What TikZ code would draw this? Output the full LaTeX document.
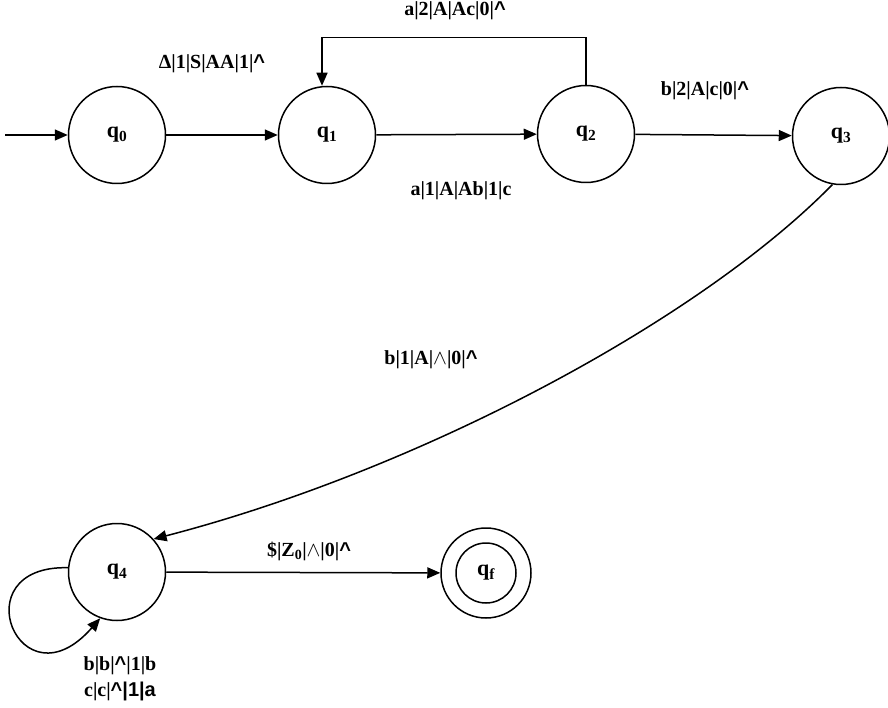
\documentclass[tikz,border=0pt]{standalone}
\usepackage{fontspec}
\setmainfont{Liberation Serif}
\newfontfamily\lsans{Liberation Sans}
\usetikzlibrary{arrows.meta}
\newcommand{\caret}{{\lsans\textasciicircum}}
\begin{document}
\begin{tikzpicture}[x=1pt,y=-1pt,
  line width=1.5pt,
  state/.style={draw,circle,minimum size=97pt,inner sep=0pt,font=\fontsize{22}{24}\selectfont\bfseries},
  lbl/.style={font=\fontsize{20}{26}\selectfont\bfseries,inner sep=1pt},
  arr/.style={-{Triangle[length=13pt,width=11pt]}}]
\useasboundingbox (0,0) rectangle (888,708);
\fill[white] (0,0) rectangle (888,708);

% states
\node[state] (q0) at (117,135) {q\textsubscript{0}};
\node[state] (q1) at (327,135) {q\textsubscript{1}};
\node[state] (q2) at (586,134) {q\textsubscript{2}};
\node[state] (q3) at (841,136) {q\textsubscript{3}};
\node[state] (q4) at (117,572) {q\textsubscript{4}};
\node[state,minimum size=90pt] (qf) at (486,573) {};
\node[state,minimum size=60pt] (qfi) at (qf) {q\textsubscript{f}};

% start arrow
\coordinate (start) at (5,135);
\draw[arr] (start) -- (q0);

% transitions
\draw[arr] (q0) -- (q1);
\draw[arr] (q1) -- (q2);
\draw[arr] (q2) -- (q3);
\draw[arr] (q2.north) -- ++(0,-47) -| ([xshift=-5pt]q1.north);
\draw[arr] (q3.260) .. controls (700,320) and (420,470) .. (q4.42);
\draw[arr] (q4) -- (qf);
\draw[arr] (q4.175) .. controls (-40,565) and (20,710) .. (q4.250);

% labels
\node[lbl] (l01) at (212,64) {Δ|1|S|AA|1|\caret};
\node[lbl] (l21) at (455,11) {a|2|A|Ac|0|\caret};
\node[lbl] (l12) at (461,191) {a|1|A|Ab|1|c};
\node[lbl] (l23) at (705,91) {b|2|A|c|0|\caret};
\node[lbl] (l34) at (431,360) {b|1|A|$\wedge$|0|\caret};
\node[lbl] (l4f) at (309,551) {\$|Z\textsubscript{0}|$\wedge$|0|\caret};
\node[lbl,align=center] (l44) at (120,679) {b|b|\caret|1|b\\c|c|{\lsans\textasciicircum|1|a}};
\end{tikzpicture}
\end{document}
